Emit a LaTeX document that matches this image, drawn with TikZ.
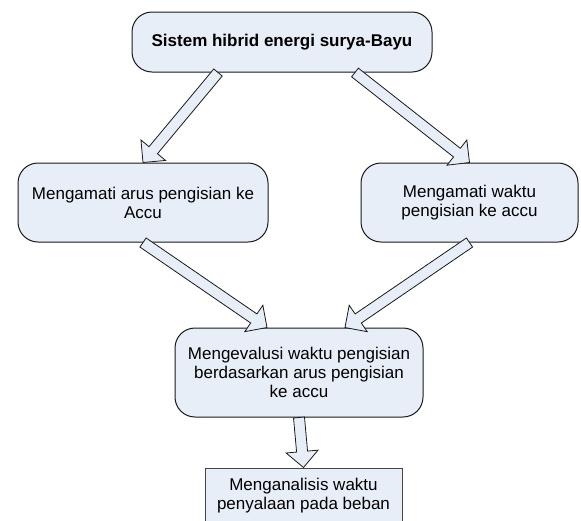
\documentclass[tikz,border=0pt]{standalone}
\usepackage{fontspec}
\setmainfont{Liberation Sans}
\usetikzlibrary{calc}
\definecolor{boxfill}{RGB}{232,238,248}
\definecolor{edge}{RGB}{25,25,25}
\definecolor{plainedge}{RGB}{70,70,70}
\tikzset{
  roundbox/.style={draw=edge, fill=boxfill, line width=1pt, rounded corners=20pt,
    align=center, inner sep=0pt, font=\fontsize{17}{19}\selectfont},
  plainbox/.style={draw=plainedge, fill=boxfill, line width=1pt,
    align=center, inner sep=0pt, font=\fontsize{17}{19}\selectfont},
  barrow/.style={draw=edge, fill=boxfill, line width=0.8pt, line join=miter}
}
\newcommand\blockarrow[2]{%
  \path ($(#2)!16pt!(#1)$) coordinate (bah);
  \draw[barrow] ($(#1)!5.5pt!90:(#2)$) -- ($(bah)!5.5pt!90:(#2)$)
    -- ($(bah)!16pt!90:(#2)$) -- (#2) -- ($(bah)!16pt!-90:(#2)$)
    -- ($(bah)!5.5pt!-90:(#2)$) -- ($(#1)!5.5pt!-90:(#2)$) -- cycle;
}
\begin{document}
\begin{tikzpicture}[x=1pt,y=-1pt]
\useasboundingbox (0,0) rectangle (581,520);
\node[roundbox, minimum width=300pt, minimum height=60pt, font=\fontsize{17}{19}\selectfont\bfseries] (top) at (282,42) {Sistem hibrid energi surya-Bayu};
\node[roundbox, minimum width=250pt, minimum height=79pt] (left) at (143,202.5) {Mengamati arus pengisian ke\\Accu};
\node[roundbox, minimum width=217pt, minimum height=79pt] (right) at (469.5,202.5) {Mengamati waktu\\pengisian ke accu};
\node[roundbox, minimum width=248pt, minimum height=89pt] (mid) at (299,372.5) {Mengevalusi waktu pengisian\\berdasarkan arus pengisian\\ke accu};
\node[plainbox, minimum width=197pt, minimum height=56pt] (bot) at (303.5,496) {Menganalisis waktu\\penyalaan pada beban};
\coordinate (a1s) at ($(top.south)+(-64,0)$);
\coordinate (a2s) at ($(top.south)+(73,0)$);
\coordinate (a3e) at ($(mid.north)+(-32,0)$);
\coordinate (a4e) at ($(mid.north)+(46,0)$);
\blockarrow{a1s}{left.north}
\blockarrow{a2s}{right.north}
\blockarrow{left.south}{a3e}
\blockarrow{right.south}{a4e}
\blockarrow{mid.south}{bot.north}
\end{tikzpicture}
\end{document}
